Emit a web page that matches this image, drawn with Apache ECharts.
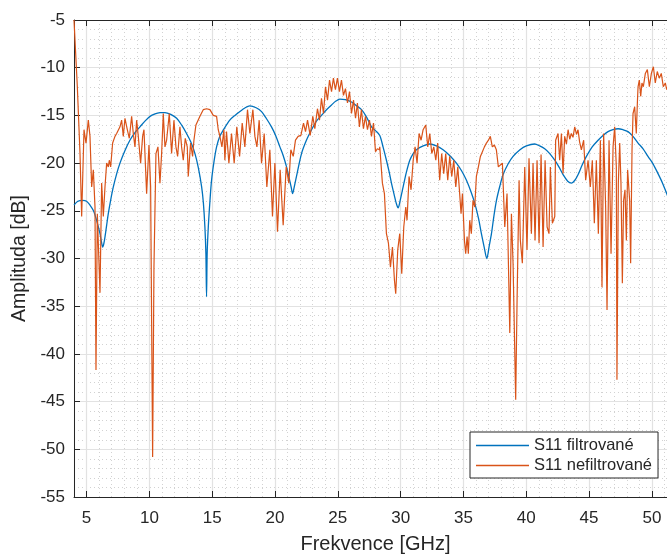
<!DOCTYPE html>
<html>
<head>
<meta charset="utf-8">
<script src="https://cdn.jsdelivr.net/npm/echarts@6/dist/echarts.min.js"></script>
<style>
html,body{margin:0;padding:0;background:#fff;}
#chart{width:667px;height:555px;}
</style>
</head>
<body>
<div id="chart"></div>
<script>
// ---- data ----
var seriesNames = ['S11 filtrované', 'S11 nefiltrované'];

var fFilt = [4.0,4.3,4.69,5.0,5.27,5.55,5.8,6.07,6.18,6.28,6.38,6.47,6.6,6.73,6.93,7.13,7.4,7.66,8.05,8.45,8.85,9.25,9.65,10.05,10.45,10.85,11.24,11.7,12.17,12.56,12.96,13.3,13.63,13.9,14.16,14.3,14.42,14.5,14.55,14.6,14.69,14.82,14.95,15.15,15.35,15.6,15.9,16.4,16.81,17.4,18.0,18.5,18.93,19.3,19.72,20.05,20.39,20.65,20.92,21.15,21.3,21.4,21.5,21.71,22.11,22.5,22.91,23.3,23.7,24.1,24.5,24.85,25.16,25.6,26.09,26.5,26.89,27.3,27.68,28.0,28.34,28.6,28.87,29.1,29.27,29.5,29.65,29.8,29.95,30.2,30.45,30.73,31.0,31.26,31.8,32.32,32.85,33.38,33.9,34.44,34.85,35.24,35.6,35.9,36.2,36.43,36.65,36.86,37.05,37.23,37.43,37.63,37.9,38.16,38.55,38.95,39.5,40.01,40.67,41.07,41.47,41.87,42.27,42.6,42.93,43.3,43.6,43.87,44.13,44.45,44.79,45.25,45.72,46.11,46.51,46.9,47.31,47.7,48.1,48.5,48.9,49.3,49.69,50.1,50.49,50.85,51.18,51.3];
var sFilt = [-24.4,-24.0,-23.9,-24.0,-24.4,-25.0,-26.0,-27.4,-28.2,-28.8,-28.4,-27.7,-26.5,-25.3,-23.8,-22.5,-21.1,-20.0,-18.7,-17.6,-16.8,-16.2,-15.6,-15.1,-14.85,-14.72,-14.7,-14.9,-15.3,-16.0,-16.9,-17.8,-19.0,-20.5,-22.5,-24.2,-26.7,-29.5,-34.0,-29.5,-26.7,-24.0,-21.8,-19.8,-18.3,-17.2,-16.5,-15.5,-15.0,-14.4,-14.0,-14.2,-14.6,-15.3,-16.2,-17.1,-18.3,-19.2,-20.4,-21.7,-22.6,-23.2,-22.7,-21.4,-19.0,-17.6,-16.5,-15.6,-15.0,-14.4,-13.9,-13.5,-13.3,-13.35,-13.6,-14.0,-14.4,-15.2,-16.2,-16.6,-17.1,-18.3,-19.7,-21.0,-22.1,-23.4,-24.2,-24.7,-24.0,-22.5,-21.0,-19.7,-19.0,-18.6,-18.2,-18.0,-18.2,-18.6,-19.2,-20.0,-20.8,-21.8,-23.0,-24.2,-25.8,-27.4,-28.8,-30.0,-28.7,-27.4,-25.5,-23.9,-22.4,-21.2,-20.1,-19.3,-18.6,-18.2,-18.0,-18.2,-18.5,-19.0,-19.7,-20.4,-21.2,-21.9,-22.1,-21.8,-21.2,-20.2,-19.3,-18.3,-17.6,-17.1,-16.7,-16.5,-16.4,-16.5,-16.7,-17.2,-17.9,-18.5,-19.3,-20.1,-21.1,-22.1,-23.2,-23.6];

var fRaw = [4.0,4.265,4.478,4.61,4.796,4.955,5.14,5.273,5.406,5.538,5.671,5.75,5.857,5.963,6.069,6.201,6.334,6.466,6.599,6.731,6.811,6.917,7.076,7.262,7.394,7.66,7.792,7.925,8.057,8.243,8.402,8.588,8.72,8.853,8.986,9.118,9.304,9.463,9.569,9.781,9.967,10.1,10.259,10.365,10.524,10.683,10.842,10.975,11.107,11.24,11.372,11.584,11.77,11.956,12.115,12.247,12.433,12.565,12.698,12.857,13.016,13.096,13.281,13.441,13.547,13.706,13.865,14.024,14.289,14.554,14.82,15.085,15.35,15.483,15.615,15.774,15.933,
16.01,16.14,16.33,16.54,16.75,16.96,17.18,17.39,17.6,17.81,18.0,18.24,18.4,18.56,18.74,18.93,19.14,19.35,19.59,19.8,19.99,20.2,20.41,20.65,20.89,21.1,21.26,21.45,21.63,21.84,22.06,22.27,22.43,22.59,22.8,23.01,23.17,23.38,23.54,23.7,23.86,24.02,24.18,24.34,24.5,24.65,24.81,24.97,25.13,25.29,25.45,25.61,25.77,25.93,26.09,26.25,26.41,26.56,26.72,26.88,27.04,27.2,27.36,27.52,27.68,27.84,28.0,28.15,28.31,
28.34,28.55,28.71,28.87,29.03,29.19,29.35,29.51,29.61,29.77,29.93,30.09,30.25,30.41,30.51,30.67,30.83,31.0,31.15,31.31,31.47,31.63,31.79,32.0,32.16,32.32,32.48,32.64,32.8,32.95,33.11,33.27,33.43,33.59,33.75,33.91,34.07,34.23,34.39,34.55,34.7,34.81,34.92,35.08,35.18,35.29,35.39,35.5,35.63,35.76,35.9,36.03,36.19,36.35,36.51,36.67,36.83,36.99,37.14,37.3,37.46,37.62,37.78,
37.89,38.1,38.29,38.47,38.69,38.82,38.95,39.16,39.27,39.43,39.53,39.69,39.88,40.06,40.22,40.41,40.54,40.7,40.86,41.02,41.18,41.34,41.5,41.66,41.81,41.92,42.08,42.27,42.34,42.53,42.66,42.8,42.93,43.06,43.2,43.33,43.46,43.59,43.72,43.86,44.0,44.12,44.25,44.39,44.57,44.73,44.92,45.1,45.26,45.42,45.58,45.74,45.9,46.03,46.16,46.32,46.43,46.59,46.75,46.91,47.04,47.17,47.22,47.33,47.44,47.54,47.65,47.75,47.86,47.97,48.07,48.23,48.31,48.42,48.5,48.63,48.76,48.85,48.9,49.0,49.11,49.21,49.32,49.48,49.64,49.8,49.96,50.12,50.27,50.43,50.59,50.75,50.91,51.07,51.18,51.3];
var sRaw = [-5.0,-12.0,-19.0,-25.6,-16.5,-17.9,-15.5,-17.2,-22.5,-20.7,-24.6,-41.7,-25.3,-25.3,-33.6,-22.1,-25.6,-22.5,-20.0,-20.4,-19.7,-20.4,-17.9,-17.2,-16.9,-16.2,-15.5,-17.2,-15.3,-16.5,-17.4,-15.1,-16.9,-18.3,-15.5,-17.2,-20.0,-17.2,-16.5,-23.2,-18.1,-22.5,-50.8,-30.9,-19.0,-18.3,-22.1,-19.0,-14.8,-18.3,-17.6,-14.8,-19.0,-15.5,-18.3,-19.3,-16.2,-18.3,-19.7,-17.4,-18.3,-21.4,-17.9,-19.3,-17.6,-16.0,-16.2,-15.1,-14.4,-14.3,-14.4,-15.0,-15.1,-16.5,-17.2,-18.3,-16.5,
-19.7,-16.7,-20.0,-16.9,-20.0,-16.2,-19.3,-15.8,-18.3,-14.4,-16.9,-14.4,-17.2,-18.3,-15.5,-20.0,-16.9,-22.5,-18.6,-25.6,-20.0,-27.2,-20.7,-26.5,-20.4,-22.1,-18.6,-19.3,-17.6,-17.2,-17.1,-15.8,-16.7,-15.5,-17.1,-15.1,-16.4,-14.3,-15.5,-13.2,-14.8,-12.0,-13.4,-11.3,-12.5,-11.1,-12.3,-11.1,-12.5,-11.3,-12.9,-12.2,-13.7,-12.5,-14.8,-13.4,-15.3,-13.7,-16.2,-14.4,-16.4,-15.1,-16.5,-15.5,-17.2,-15.8,-18.8,-18.5,-18.6,
-18.3,-22.1,-23.2,-27.4,-28.4,-30.9,-28.8,-32.3,-33.7,-29.1,-27.4,-31.6,-26.7,-24.6,-26.0,-21.4,-22.8,-19.7,-18.3,-20.0,-16.9,-17.6,-16.5,-16.0,-18.3,-16.9,-19.0,-18.3,-19.7,-17.9,-21.8,-19.0,-21.1,-19.0,-21.8,-19.3,-21.4,-19.7,-22.5,-20.4,-23.2,-25.3,-23.2,-28.1,-29.5,-27.7,-29.5,-26.0,-27.4,-23.9,-24.6,-21.4,-20.4,-19.3,-18.8,-18.3,-17.9,-17.6,-17.2,-18.3,-18.1,-18.6,-20.4,
-20.4,-20.0,-26.7,-23.2,-37.8,-25.3,-30.5,-44.8,-34.3,-21.8,-28.1,-30.5,-20.4,-29.1,-19.5,-27.4,-20.0,-28.1,-19.7,-28.4,-19.1,-28.8,-19.7,-26.7,-27.4,-20.4,-26.3,-25.6,-17.6,-16.9,-19.7,-16.9,-21.1,-17.2,-18.0,-16.5,-17.5,-16.9,-17.3,-16.2,-17.0,-16.5,-17.8,-18.6,-17.6,-21.8,-19.7,-22.5,-19.7,-26.3,-19.7,-27.4,-17.6,-33.0,-16.9,-24.6,-35.4,-17.6,-29.5,-18.3,-16.2,-20.4,-42.7,-22.1,-17.9,-22.1,-32.6,-23.9,-22.8,-28.1,-20.7,-23.9,-30.5,-18.6,-14.8,-14.1,-16.9,-13.5,-12.0,-11.3,-13.0,-11.6,-12.0,-10.6,-10.2,-12.0,-10.6,-9.9,-11.6,-10.4,-11.1,-10.6,-12.0,-11.6,-12.3,-11.8];

var yTicks = {min: -55, max: -5, step: 5};
var xRange = {min: 4, max: 52};

// ---- build ----
function pairs(xs, ys){ return xs.map(function(x,i){ return [x, ys[i]]; }); }

var textColor = '#262626';
var font = 'Liberation Sans, Arial, Helvetica, sans-serif';
var minorStyle = {color: '#d2d2d2', width: 1, type: [1, 3]};
var majorStyle = {color: '#e2e2e2', width: 1.2};

var chart = echarts.init(document.getElementById('chart'), null, {renderer: 'canvas'});
chart.setOption({
  animation: false,
  backgroundColor: '#ffffff',
  textStyle: {fontFamily: font, color: textColor},
  grid: {left: 74, top: 20, width: 603, height: 477, containLabel: false, outerBoundsMode: 'none'},
  legend: {
    data: seriesNames,
    orient: 'vertical',
    left: 470, top: 432,
    itemWidth: 53, itemHeight: 1.6, icon: 'rect',
    itemGap: 3,
    padding: [5, 6, 4, 6],
    borderColor: '#262626', borderWidth: 1,
    backgroundColor: '#ffffff',
    textStyle: {fontFamily: font, fontSize: 16.5, color: textColor}
  },
  xAxis: [
    {
      type: 'value', min: xRange.min, max: xRange.max, splitNumber: 10,
      position: 'bottom',
      name: 'Frekvence [GHz]', nameLocation: 'middle', nameGap: 37,
      nameTextStyle: {fontFamily: font, fontSize: 20, color: textColor},
      axisLine: {show: true, onZero: false, lineStyle: {color: textColor, width: 1}},
      axisTick: {show: true, inside: true, length: 6, lineStyle: {color: textColor}},
      axisLabel: {fontFamily: font, fontSize: 17, color: textColor, margin: 13, showMinLabel: false, showMaxLabel: false},
      splitLine: {show: true, lineStyle: majorStyle},
      z: 3
    },
    {
      type: 'value', min: xRange.min, max: xRange.max, interval: 1,
      position: 'bottom',
      axisLine: {show: false}, axisTick: {show: false}, axisLabel: {show: false},
      splitLine: {show: true, lineStyle: minorStyle},
      z: 1
    },
    {
      type: 'value', min: xRange.min, max: xRange.max, splitNumber: 10,
      position: 'top',
      axisLine: {show: true, onZero: false, lineStyle: {color: textColor, width: 1}},
      axisTick: {show: true, inside: true, length: 6, lineStyle: {color: textColor}},
      axisLabel: {show: false},
      splitLine: {show: false},
      z: 3
    }
  ],
  yAxis: [
    {
      type: 'value', min: yTicks.min, max: yTicks.max, interval: yTicks.step,
      name: 'Amplituda [dB]', nameLocation: 'middle', nameGap: 41,
      nameTextStyle: {fontFamily: font, fontSize: 19.5, color: textColor},
      axisLine: {show: true, onZero: false, lineStyle: {color: textColor, width: 1}},
      axisTick: {show: true, inside: true, length: 6, lineStyle: {color: textColor}},
      axisLabel: {fontFamily: font, fontSize: 17, color: textColor, margin: 9},
      splitLine: {show: true, lineStyle: majorStyle},
      minorTick: {show: false, splitNumber: 5},
      minorSplitLine: {show: true, lineStyle: minorStyle},
      z: 3
    }
  ],
  series: [
    {
      name: seriesNames[0], type: 'line', xAxisIndex: 0, yAxisIndex: 0,
      data: pairs(fFilt, sFilt), showSymbol: false, symbol: 'none',
      smooth: 0.3, clip: true,
      lineStyle: {color: '#0072BD', width: 1.3}, itemStyle: {color: '#0072BD'}, z: 4
    },
    {
      name: seriesNames[1], type: 'line', xAxisIndex: 0, yAxisIndex: 0,
      data: pairs(fRaw, sRaw), showSymbol: false, symbol: 'none',
      smooth: false, clip: true,
      lineStyle: {color: '#D95319', width: 1.2}, itemStyle: {color: '#D95319'}, z: 5
    }
  ]
});
</script>
</body>
</html>
